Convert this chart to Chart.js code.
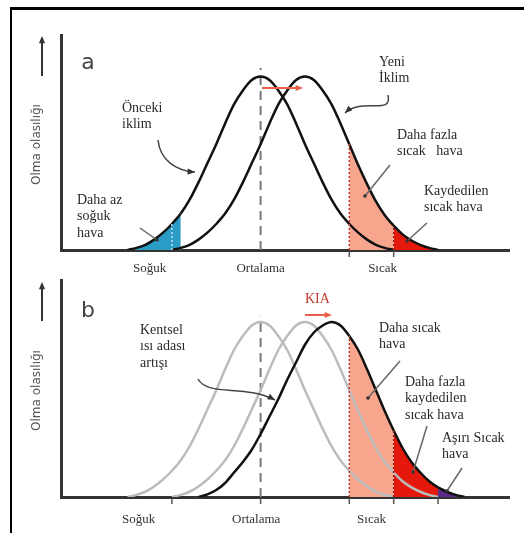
<!DOCTYPE html>
<html>
<head>
<meta charset="utf-8">
<script src="https://cdn.jsdelivr.net/npm/chart.js@4.4.0/dist/chart.umd.min.js"></script>
<style>
body { margin: 0; background: #fff; }
#frame { position: absolute; left: 10px; top: 7px; width: 514px; height: 526px; border-top: 3px solid #000; border-left: 2px solid #000; box-sizing: border-box; }
canvas { position: absolute; left: 0; top: 0; }
</style>
</head>
<body>
<div id="frame"></div>
<canvas id="chartA" width="524" height="533"></canvas>
<canvas id="chartB" width="524" height="533"></canvas>
<script>
// temperature in standard deviations from the old mean
const tempX = [-3, -2.8, -2.6, -2.4, -2.2, -2, -1.8, -1.6, -1.4, -1.2, -1, -0.8, -0.6, -0.4, -0.2,
    0, 0.2, 0.4, 0.6, 0.8, 1, 1.2, 1.4, 1.6, 1.8, 2, 2.2, 2.4, 2.6, 2.8, 3, 3.2, 3.4, 3.6, 3.8, 4, 4.2, 4.4, 4.6];

// probability (1 = peak height)
const oldClimate = [0, 0.012, 0.03, 0.06, 0.1, 0.15, 0.21, 0.29, 0.39, 0.5, 0.61, 0.73, 0.84, 0.92, 0.98,
    1, 0.98, 0.92, 0.84, 0.73, 0.61, 0.5, 0.39, 0.29, 0.21, 0.15, 0.1, 0.06, 0.03, 0.012, 0,
    null, null, null, null, null, null, null, null];
const newClimate = [null, null, null, null, null, 0, 0.012, 0.03, 0.06, 0.1, 0.15, 0.21, 0.29, 0.39, 0.5,
    0.61, 0.73, 0.84, 0.92, 0.98, 1, 0.98, 0.92, 0.84, 0.73, 0.61, 0.49, 0.38, 0.28, 0.2,
    0.14, 0.09, 0.055, 0.03, 0.012, 0, null, null, null];
const uhiClimate = [null, null, null, null, null, null, null, null, 0, 0.015, 0.04, 0.08, 0.14, 0.2,
    0.27, 0.36, 0.46, 0.56, 0.67, 0.77, 0.87, 0.94, 0.98, 1, 0.98, 0.92, 0.84, 0.73, 0.61, 0.49,
    0.38, 0.28, 0.2, 0.14, 0.09, 0.055, 0.03, 0.012, 0];

const tickLabels = ["Soğuk", "Ortalama", "Sıcak"];
const tickPosA = [-2.5, 0, 2.75];
const tickPosB = [-2.75, -0.1, 2.5];
const tickMarksA = [2, 3];
const tickMarksB = [-2, 0, 2, 3, 4];

const BLUE = "#2a9cc6", SALMON = "#f7a58c", RED = "#e5190b", PURPLE = "#5a2a86", NONE = "rgba(0,0,0,0)";

const pts = ys => tempX.map((x, i) => ({ x: x, y: ys[i] }));
const valueAt = (ys, x) => ys[tempX.findIndex(v => Math.abs(v - x) < 1e-6)];

function hotColor(x, withPurple) {
    if (x >= 3.99 && withPurple) return PURPLE;
    if (x >= 2.99) return RED;
    if (x >= 1.99) return SALMON;
    return NONE;
}

function arrowHead(ctx, x, y, ang, size) {
    ctx.beginPath();
    ctx.moveTo(x, y);
    ctx.lineTo(x - size * Math.cos(ang - 0.4), y - size * Math.sin(ang - 0.4));
    ctx.lineTo(x - size * Math.cos(ang + 0.4), y - size * Math.sin(ang + 0.4));
    ctx.closePath();
    ctx.fill();
}

const notesPlugin = {
    id: "notes",
    beforeDatasetsDraw(chart, args, o) {
        const ctx = chart.ctx, xs = chart.scales.x, ys = chart.scales.y;
        const px = xs.getPixelForValue(0);
        ctx.save();
        ctx.strokeStyle = "#7a7a7a";
        ctx.lineWidth = 2;
        ctx.setLineDash([9, 6]);
        ctx.beginPath();
        ctx.moveTo(px, ys.getPixelForValue(0));
        ctx.lineTo(px, ys.getPixelForValue(o.meanTop));
        ctx.stroke();
        ctx.restore();
    },
    afterDatasetsDraw(chart, args, o) {
        const ctx = chart.ctx, xs = chart.scales.x, ys = chart.scales.y;
        ctx.save();
        // dotted boundaries of the shaded areas
        o.bounds.forEach(b => {
            const px = xs.getPixelForValue(b.x);
            ctx.strokeStyle = b.color;
            ctx.lineWidth = 1.5;
            ctx.setLineDash([2, 2]);
            ctx.beginPath();
            ctx.moveTo(px, ys.getPixelForValue(0));
            ctx.lineTo(px, ys.getPixelForValue(valueAt(b.curve, b.x)));
            ctx.stroke();
        });
        ctx.setLineDash([]);
        // small tick marks under the axis
        ctx.strokeStyle = "#555";
        ctx.lineWidth = 1.5;
        o.marks.forEach(m => {
            const px = xs.getPixelForValue(m);
            ctx.beginPath();
            ctx.moveTo(px, ys.bottom + 1);
            ctx.lineTo(px, ys.bottom + 7);
            ctx.stroke();
        });
        ctx.restore();
    },
    afterDraw(chart, args, o) {
        const ctx = chart.ctx, ys = chart.scales.y;
        ctx.save();
        // panel letter
        ctx.fillStyle = "#444";
        ctx.font = "22px 'DejaVu Sans'";
        ctx.textAlign = "center";
        ctx.textBaseline = "middle";
        ctx.fillText(o.letter, 88, o.letterY);
        // y title and its arrow
        ctx.save();
        ctx.translate(37, (ys.top + ys.bottom) / 2 + 2);
        ctx.rotate(-Math.PI / 2);
        ctx.fillStyle = "#555";
        ctx.font = "12px 'DejaVu Sans'";
        ctx.fillText("Olma olasılığı", 0, 0);
        ctx.restore();
        ctx.strokeStyle = "#333";
        ctx.fillStyle = "#333";
        ctx.lineWidth = 2;
        ctx.beginPath();
        ctx.moveTo(42, o.upArrow[1]);
        ctx.lineTo(42, o.upArrow[0] + 4);
        ctx.stroke();
        arrowHead(ctx, 42, o.upArrow[0], -Math.PI / 2, 8);

        // shift arrow
        const sa = o.shift;
        ctx.strokeStyle = sa.color;
        ctx.fillStyle = sa.color;
        ctx.lineWidth = 2;
        ctx.beginPath();
        ctx.moveTo(sa.x1, sa.y);
        ctx.lineTo(sa.x2 - 4, sa.y);
        ctx.stroke();
        arrowHead(ctx, sa.x2, sa.y, 0, 8);

        // pointers
        o.pointers.forEach(p => {
            ctx.strokeStyle = p.color || "#666";
            ctx.fillStyle = "#333";
            ctx.lineWidth = 1.5;
            ctx.beginPath();
            ctx.moveTo(p.pts[0][0], p.pts[0][1]);
            if (p.pts.length === 4) {
                ctx.bezierCurveTo(p.pts[1][0], p.pts[1][1], p.pts[2][0], p.pts[2][1], p.pts[3][0], p.pts[3][1]);
            } else {
                ctx.lineTo(p.pts[1][0], p.pts[1][1]);
            }
            ctx.stroke();
            const e = p.pts[p.pts.length - 1], b = p.pts[p.pts.length - 2];
            if (p.arrow) arrowHead(ctx, e[0], e[1], Math.atan2(e[1] - b[1], e[0] - b[0]), 8);
            if (p.dot) { ctx.beginPath(); ctx.arc(e[0], e[1], 1.8, 0, Math.PI * 2); ctx.fill(); }
        });

        // texts
        ctx.textAlign = "left";
        ctx.textBaseline = "middle";
        o.texts.forEach(t => {
            ctx.fillStyle = t.color || "#2a2a2a";
            ctx.font = (t.size || 14) + "px 'Liberation Serif'";
            t.lines.forEach((ln, i) => ctx.fillText(ln, t.x, t.y + i * 16.5));
        });
        ctx.restore();
    }
};

function baseOptions(tickPos, tickPad, padding, notes) {
    return {
        responsive: false,
        animation: false,
        events: [],
        layout: { padding: padding },
        plugins: {
            legend: { display: false },
            tooltip: { enabled: false },
            filler: { drawTime: "beforeDatasetsDraw" },
            notes: notes
        },
        elements: { point: { radius: 0 } },
        scales: {
            x: {
                type: "linear",
                min: -4.5,
                max: 5.6,
                afterBuildTicks: s => { s.ticks = tickPos.map(v => ({ value: v })); },
                afterFit: s => { s.height = 30; },
                ticks: {
                    autoSkip: false,
                    maxRotation: 0,
                    padding: tickPad,
                    color: "#333",
                    font: { family: "'Liberation Serif'", size: 13 },
                    callback: (v, i) => tickLabels[i]
                },
                grid: { display: false, drawTicks: false },
                border: { display: true, color: "#333", width: 3 }
            },
            y: {
                min: 0,
                max: 1.24,
                ticks: { display: false },
                grid: { display: false, drawTicks: false },
                border: { display: true, color: "#333", width: 3 }
            }
        }
    };
}

const curveStyle = {
    pointRadius: 0,
    borderWidth: 2.5,
    cubicInterpolationMode: "monotone",
    fill: "origin",
    backgroundColor: NONE
};

// panel a
new Chart(document.getElementById("chartA"), {
    type: "line",
    data: {
        datasets: [
            Object.assign({}, curveStyle, {
                label: "Önceki iklim",
                data: pts(oldClimate),
                borderColor: "#111",
                segment: { backgroundColor: c => c.p0.parsed.x < -1.99 ? BLUE : NONE }
            }),
            Object.assign({}, curveStyle, {
                label: "Yeni İklim",
                data: pts(newClimate),
                borderColor: "#111",
                segment: { backgroundColor: c => hotColor(c.p0.parsed.x, false) }
            })
        ]
    },
    options: baseOptions(tickPosA, 11, { left: 61, right: 15, top: 35, bottom: 253 }, {
        letter: "a",
        letterY: 63,
        upArrow: [36, 76],
        meanTop: 1.05,
        marks: tickMarksA,
        bounds: [
            { x: -2, curve: oldClimate, color: "#bfe3ef" },
            { x: 2, curve: newClimate, color: "#c0392b" },
            { x: 3, curve: newClimate, color: "#9b1a10" }
        ],
        shift: { x1: 262, x2: 303, y: 88, color: "#e8604c" },
        pointers: [
            { pts: [[158, 140], [160, 160], [176, 171], [195, 172]], arrow: true, color: "#444" },
            { pts: [[388, 95], [393, 116], [362, 97], [345, 113]], arrow: true, color: "#444" },
            { pts: [[390, 165], [365, 196]], dot: true },
            { pts: [[427, 223], [407, 241]], dot: true },
            { pts: [[140, 228], [157, 240]], dot: true }
        ],
        texts: [
            { x: 122, y: 108, lines: ["Önceki", "iklim"] },
            { x: 379, y: 62, lines: ["Yeni", "İklim"] },
            { x: 397, y: 135, lines: ["Daha fazla", "sıcak   hava"] },
            { x: 424, y: 191, lines: ["Kaydedilen", "sıcak hava"] },
            { x: 77, y: 200, lines: ["Daha az", "soğuk", "hava"] }
        ]
    }),
    plugins: [notesPlugin]
});

// panel b
new Chart(document.getElementById("chartB"), {
    type: "line",
    data: {
        datasets: [
            Object.assign({}, curveStyle, {
                label: "Kentsel ısı adası",
                data: pts(uhiClimate),
                borderColor: "#111",
                segment: { backgroundColor: c => hotColor(c.p0.parsed.x, true) }
            }),
            Object.assign({}, curveStyle, {
                label: "Yeni iklim",
                data: pts(newClimate),
                borderColor: "#bcbcbc",
                fill: false
            }),
            Object.assign({}, curveStyle, {
                label: "Önceki iklim",
                data: pts(oldClimate),
                borderColor: "#bcbcbc",
                fill: false
            })
        ]
    },
    options: baseOptions(tickPosB, 15, { left: 61, right: 15, top: 280, bottom: 6 }, {
        letter: "b",
        letterY: 311,
        upArrow: [282, 321],
        meanTop: 1.03,
        marks: tickMarksB,
        bounds: [
            { x: 2, curve: uhiClimate, color: "#c0392b" },
            { x: 3, curve: uhiClimate, color: "#9b1a10" }
        ],
        shift: { x1: 305, x2: 332, y: 315, color: "#e8604c" },
        pointers: [
            { pts: [[198, 379], [208, 397], [245, 384], [275, 400]], arrow: true, color: "#444" },
            { pts: [[400, 361], [368, 398]], dot: true },
            { pts: [[427, 426], [413, 472]], dot: true },
            { pts: [[462, 468], [447, 491]], dot: true }
        ],
        texts: [
            { x: 140, y: 330, lines: ["Kentsel", "ısı adası", "artışı"] },
            { x: 305, y: 299, lines: ["KIA"], color: "#c0392b" },
            { x: 379, y: 328, lines: ["Daha sıcak", "hava"] },
            { x: 405, y: 382, lines: ["Daha fazla", "kaydedilen", "sıcak hava"] },
            { x: 442, y: 438, lines: ["Aşırı Sıcak", "hava"] }
        ]
    }),
    plugins: [notesPlugin]
});
</script>
</body>
</html>
